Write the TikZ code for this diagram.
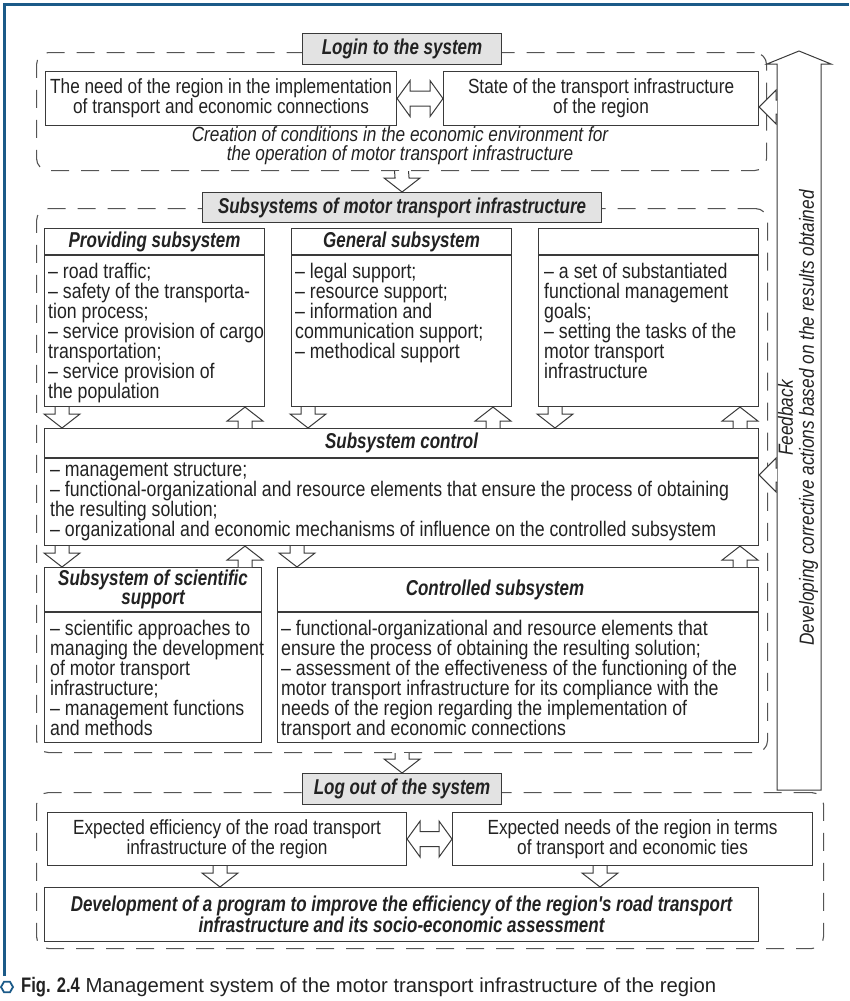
\documentclass[tikz,border=0pt]{standalone}
\usepackage{fontspec}
\setmainfont{Liberation Sans}[FakeStretch=0.84]
\newfontfamily\hdfont{Liberation Sans}[FakeStretch=0.79]
\newfontfamily\capfont{Liberation Sans}
\usetikzlibrary{calc}
\definecolor{ink}{HTML}{222222}
\definecolor{edge}{HTML}{3A3A3A}
\definecolor{dashc}{HTML}{555555}
\definecolor{lblfill}{HTML}{E3E3E3}
\definecolor{frameblue}{HTML}{1B5A88}
\newcommand\toptext{\fontsize{20.5}{20}\selectfont}
\newcommand\bodytext{\fontsize{21.1}{20}\selectfont}
\newcommand\hdtext{\hdfont\bfseries\itshape\fontsize{21.5}{19.5}\selectfont}
% hollow block arrows: back point, tip point
\newcommand\arrdown[2]{\draw[blk] ($(#1)+(-7,0)$) -- ($(#2)+(-7,-14)$) -- ($(#2)+(-18,-14)$) -- (#2) -- ($(#2)+(18,-14)$) -- ($(#2)+(7,-14)$) -- ($(#1)+(7,0)$);}
\newcommand\arrup[2]{\draw[blk] ($(#1)+(-7,0)$) -- ($(#2)+(-7,14)$) -- ($(#2)+(-18,14)$) -- (#2) -- ($(#2)+(18,14)$) -- ($(#2)+(7,14)$) -- ($(#1)+(7,0)$);}
\newcommand\arrleft[2]{\draw[blk] ($(#1)+(0,-7)$) -- ($(#2)+(17,-7)$) -- ($(#2)+(17,-17)$) -- (#2) -- ($(#2)+(17,17)$) -- ($(#2)+(17,7)$) -- ($(#1)+(0,7)$);}
\newcommand\arrlr[2]{\draw[blk] (#1) -- ($(#1)+(13,-18)$) -- ($(#1)+(13,-7.5)$) -- ($(#2)+(-13,-7.5)$) -- ($(#2)+(-13,-18)$) -- (#2) -- ($(#2)+(-13,18)$) -- ($(#2)+(-13,7.5)$) -- ($(#1)+(13,7.5)$) -- ($(#1)+(13,18)$) -- cycle;}
\begin{document}
\begin{tikzpicture}[x=1pt,y=-1pt,
  box/.style={draw=edge, line width=1.1pt, fill=white, inner sep=0pt, anchor=north west, align=center, text=ink, font=\toptext},
  dashbox/.style={draw=dashc, line width=1.1pt, dash pattern=on 18pt off 12pt, rounded corners=12pt, inner sep=0pt, anchor=north west},
  lbl/.style={draw=edge, line width=1.1pt, fill=lblfill, inner sep=0pt, anchor=north west, text=ink, font=\hdtext},
  hd/.style={inner sep=0pt, text=ink, font=\hdtext, align=center},
  list/.style={inner sep=0pt, text=ink, font=\bodytext, align=left, anchor=north west},
  sepline/.style={draw=edge, line width=1.1pt},
  blk/.style={draw=edge, line width=1pt, fill=white, line join=miter},
]
\useasboundingbox (0,0) rectangle (849,1001);
% page frame
\draw[frameblue, line width=3pt] (4.5,976) -- (4.5,4.5) -- (849,4.5);

% dashed sections
\node[dashbox, minimum width=730, minimum height=118] (sec1) at (36,52) {};
\node[dashbox, minimum width=731, minimum height=544] (sec2) at (36,208) {};
\node[dashbox, minimum width=787, minimum height=156] (sec3) at (36,792) {};

% section labels
\node[lbl, minimum width=199, minimum height=31] (login) at (302,33) {Login to the system};
\node[lbl, minimum width=399, minimum height=30] (subs) at (202,192) {Subsystems of motor transport infrastructure};
\node[lbl, minimum width=199, minimum height=31] (logout) at (302,773) {Log out of the system};

% section 1
\node[box, minimum width=351, minimum height=54] (need) at (45,71) {The need of the region in the implementation\\of transport and economic connections};
\node[box, minimum width=315, minimum height=54] (state) at (443,71) {State of the transport infrastructure\\of the region};
\node[inner sep=0pt, text=ink, align=center, font=\toptext\itshape\fontsize{20.5}{19}\selectfont] (creation) at (400,146) {Creation of conditions in the economic environment for\\the operation of motor transport infrastructure};

% section 2 : first row
\node[box, minimum width=220, minimum height=178] (prov) at (44,228) {};
\draw[sepline] ($(prov.north west)+(0,27)$) -- ($(prov.north east)+(0,27)$);
\node[hd] (provh) at ($(prov.north)+(0,13.5)$) {Providing subsystem};
\node[list] (provt) at (48,263) {– road traffic;\\– safety of the transporta-\\tion process;\\– service provision of cargo\\transportation;\\– service provision of\\the population};

\node[box, minimum width=220, minimum height=178] (gen) at (291,228) {};
\draw[sepline] ($(gen.north west)+(0,27)$) -- ($(gen.north east)+(0,27)$);
\node[hd] (genh) at ($(gen.north)+(0,13.5)$) {General subsystem};
\node[list] (gent) at (295,263) {– legal support;\\– resource support;\\– information and\\communication support;\\– methodical support};

\node[box, minimum width=220, minimum height=178] (goal) at (538,228) {};
\draw[sepline] ($(goal.north west)+(0,27)$) -- ($(goal.north east)+(0,27)$);
\node[list] (goalt) at (544,263) {– a set of substantiated\\functional management\\goals;\\– setting the tasks of the\\motor transport\\infrastructure};

% subsystem control
\node[box, minimum width=714, minimum height=117] (ctrl) at (44,428) {};
\draw[sepline] ($(ctrl.north west)+(0,30)$) -- ($(ctrl.north east)+(0,30)$);
\node[hd] (ctrlh) at ($(ctrl.north)+(0,15)$) {Subsystem control};
\node[list] (ctrlt) at (50,463) {– management structure;\\– functional-organizational and resource elements that ensure the process of obtaining\\the resulting solution;\\– organizational and economic mechanisms of influence on the controlled subsystem};

% bottom row
\node[box, minimum width=217, minimum height=175] (sci) at (44,567) {};
\draw[sepline] ($(sci.north west)+(0,45)$) -- ($(sci.north east)+(0,45)$);
\node[hd] (scih) at ($(sci.north)+(0,22.5)$) {Subsystem of scientific\\support};
\node[list] (scit) at (50,620) {– scientific approaches to\\managing the development\\of motor transport\\infrastructure;\\– management functions\\and methods};

\node[box, minimum width=481, minimum height=175] (cont) at (277,567) {};
\draw[sepline] ($(cont.north west)+(0,45)$) -- ($(cont.north east)+(0,45)$);
\node[hd] (conth) at (495,589.5) {Controlled subsystem};
\node[list] (contt) at (281,620) {– functional-organizational and resource elements that\\ensure the process of obtaining the resulting solution;\\– assessment of the effectiveness of the functioning of the\\motor transport infrastructure for its compliance with the\\needs of the region regarding the implementation of\\transport and economic connections};

% section 3
\node[box, minimum width=359, minimum height=53] (effic) at (47,812) {Expected efficiency of the road transport\\infrastructure of the region};
\node[box, minimum width=360, minimum height=53] (needs) at (452,812) {Expected needs of the region in terms\\of transport and economic ties};
\node[box, minimum width=714, minimum height=54, font=\hdtext\fontsize{21.5}{21}\selectfont] (prog) at (44,887) {Development of a program to improve the efficiency of the region's road transport\\infrastructure and its socio-economic assessment};

% feedback arrow
\coordinate (fbtip) at (799,51);
\coordinate (fbbase) at (799,790);
\draw[blk] ($(fbbase)+(-22,0)$) -- ($(fbtip)+(-22,13)$) -- ($(fbtip)+(-32,13)$) -- (fbtip) -- ($(fbtip)+(32,13)$) -- ($(fbtip)+(22,13)$) -- ($(fbbase)+(22,0)$) -- cycle;
\node[inner sep=0pt, text=ink, align=center, rotate=90, font=\itshape\fontsize{20.5}{21}\selectfont] (fbtext) at (798,418) {Feedback\\Developing corrective actions based on the results obtained};

% arrows between sections
\arrdown{sec1.south}{subs.north}
\arrdown{sec2.south}{logout.north}

% double arrows
\arrlr{need.east}{state.west}
\arrlr{effic.east}{needs.west}

% feedback into boxes
\coordinate (fb1) at (777,107);
\coordinate (fb2) at (777,475);
\coordinate (t1) at (state.east |- fb1);
\coordinate (t2) at (ctrl.east |- fb2);
\arrleft{fb1}{t1}
\arrleft{fb2}{t2}

% row 1 <-> control
\coordinate (a1) at (62,0 |- prov.south);   \coordinate (b1) at (62,0 |- ctrl.north);
\coordinate (a2) at (245,0 |- ctrl.north);  \coordinate (b2) at (245,0 |- prov.south);
\coordinate (a3) at (308,0 |- gen.south);   \coordinate (b3) at (308,0 |- ctrl.north);
\coordinate (a4) at (493,0 |- ctrl.north);  \coordinate (b4) at (493,0 |- gen.south);
\coordinate (a5) at (555,0 |- goal.south);  \coordinate (b5) at (555,0 |- ctrl.north);
\coordinate (a6) at (740,0 |- ctrl.north);  \coordinate (b6) at (740,0 |- goal.south);
\arrdown{a1}{b1}
\arrup{a2}{b2}
\arrdown{a3}{b3}
\arrup{a4}{b4}
\arrdown{a5}{b5}
\arrup{a6}{b6}

% control <-> row 2
\coordinate (c1) at (62,0 |- ctrl.south);   \coordinate (d1) at (62,0 |- sci.north);
\coordinate (c2) at (245,0 |- sci.north);   \coordinate (d2) at (245,0 |- ctrl.south);
\coordinate (c3) at (297,0 |- ctrl.south);  \coordinate (d3) at (297,0 |- cont.north);
\coordinate (c4) at (740,0 |- cont.north);  \coordinate (d4) at (740,0 |- ctrl.south);
\arrdown{c1}{d1}
\arrup{c2}{d2}
\arrdown{c3}{d3}
\arrup{c4}{d4}

% section 3 arrows
\coordinate (e1) at (220,0 |- effic.south); \coordinate (f1) at (220,0 |- prog.north);
\coordinate (e2) at (600,0 |- needs.south); \coordinate (f2) at (600,0 |- prog.north);
\arrdown{e1}{f1}
\arrdown{e2}{f2}

% caption
\draw[frameblue, line width=1.8pt] (13,987) -- (10,992.2) -- (4,992.2) -- (1,987) -- (4,981.8) -- (10,981.8) -- cycle;
\node[anchor=west, inner sep=0pt, text=ink, font=\capfont\fontsize{20.3}{22}\selectfont] (cap) at (21,987) {{\hdfont\bfseries\fontsize{21}{22}\selectfont Fig. 2.4} Management system of the motor transport infrastructure of the region};
\end{tikzpicture}
\end{document}
